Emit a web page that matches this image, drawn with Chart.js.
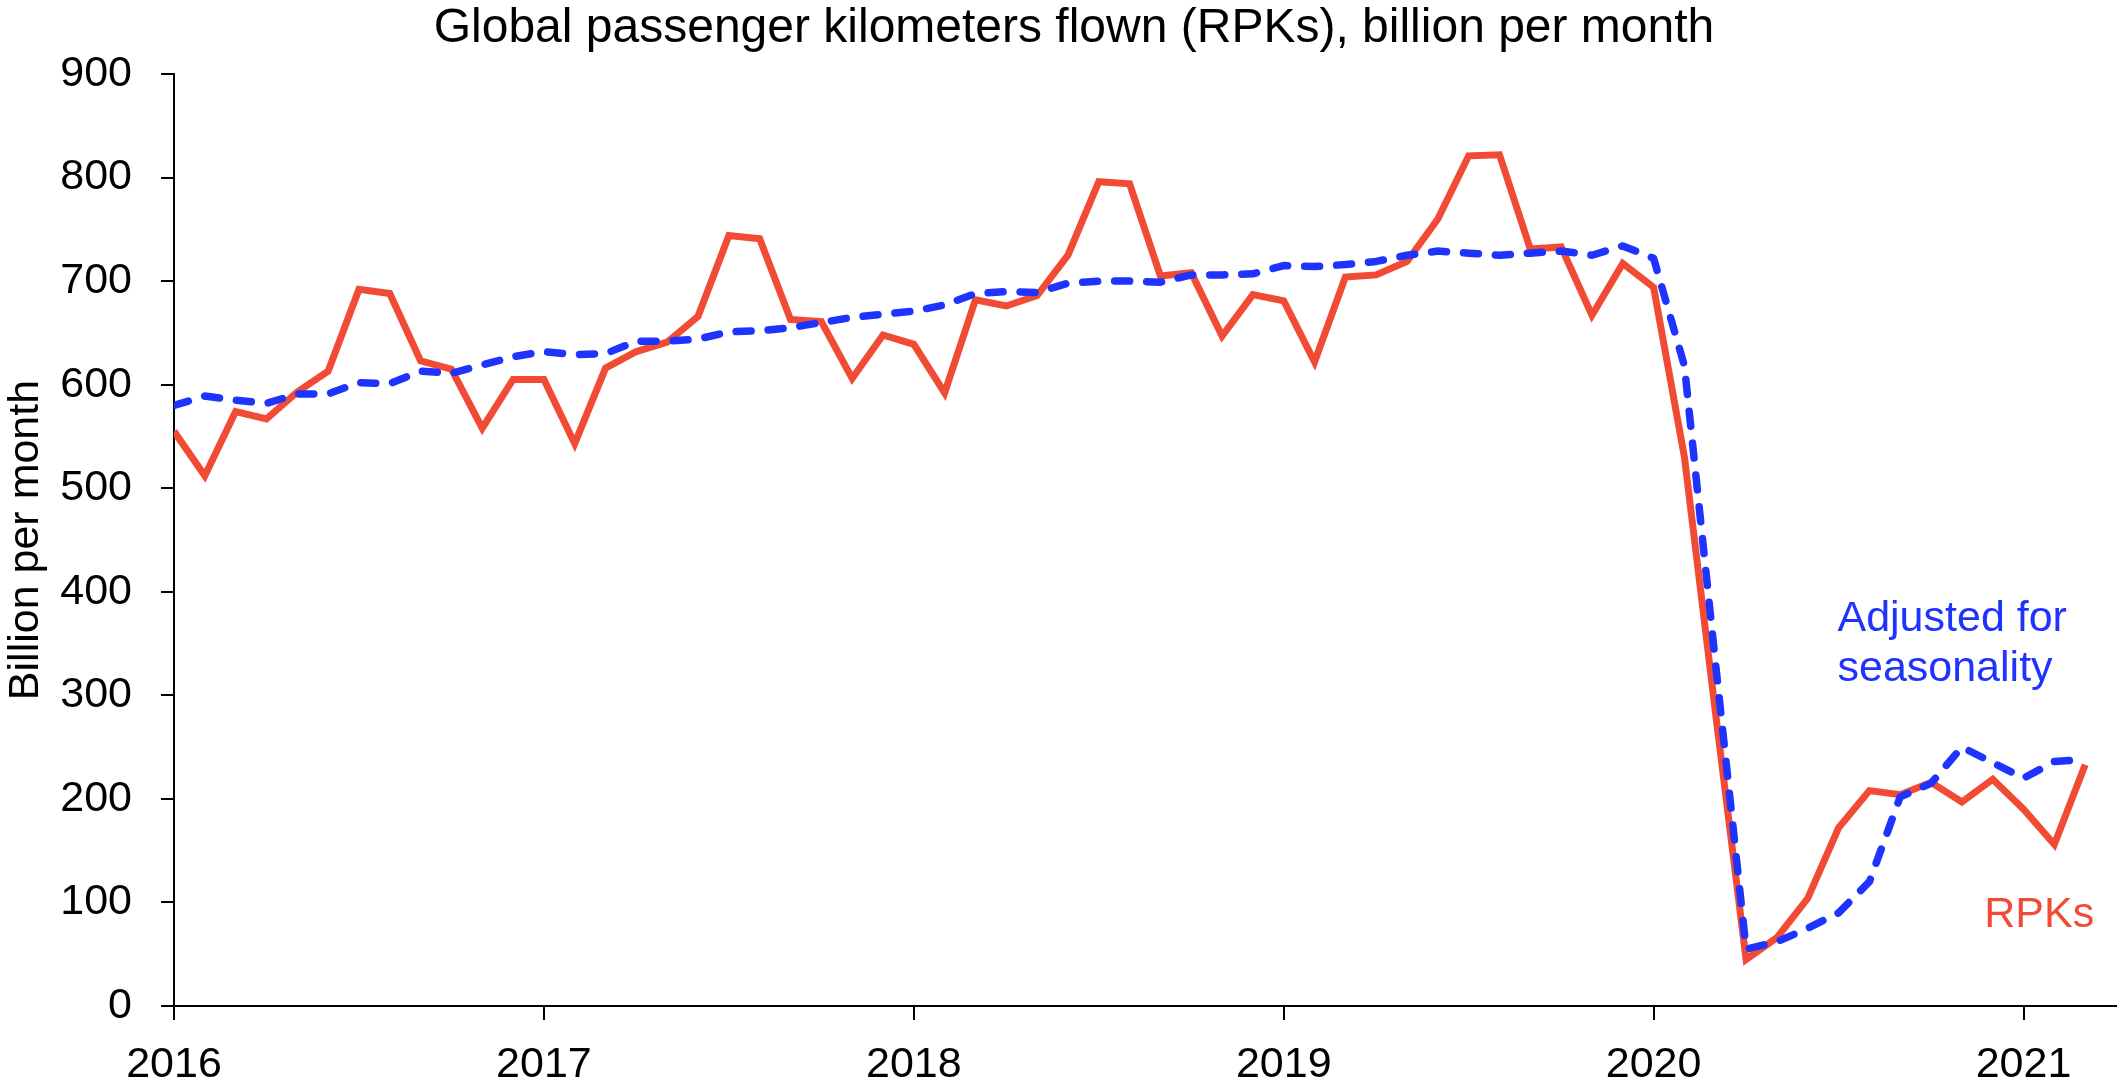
<!DOCTYPE html>
<html>
<head>
<meta charset="utf-8">
<title>Global passenger kilometers flown</title>
<script src="https://cdn.jsdelivr.net/npm/chart.js@4.4.1/dist/chart.umd.min.js"></script>
<style>
    html, body { margin: 0; padding: 0; background: #fff; }
    canvas { display: block; }
</style>
</head>
<body>
<canvas id="rpkChart" width="2118" height="1083"></canvas>
<script>
// monthly series, Jan 2016 .. Mar 2021
const firstYear = 2016;
const rpks = [
    555, 512, 574, 567, 593, 613, 692, 688, 623, 615, 558, 605,
    605, 543, 616, 632, 641, 666, 744, 741, 663, 661, 606, 648,
    639, 592, 682, 676, 686, 725, 796, 794, 705, 708, 647, 687,
    681, 622, 704, 706, 719, 760, 821, 822, 731, 733, 667, 717,
    694, 530, 285, 45, 66, 104, 172, 208, 204, 216, 197, 219,
    190, 156, 233
];
const seasonal = [
    580, 589, 585, 582, 591, 591, 602, 601, 613, 611, 619, 627,
    632, 629, 630, 642, 642, 644, 651, 652, 655, 660, 665, 668,
    671, 677, 688, 690, 689, 698, 700, 700, 699, 706, 706, 707,
    715, 714, 716, 719, 725, 729, 727, 725, 727, 729, 725, 734,
    722, 618, 333, 55, 62, 75, 90, 120, 202, 215, 250, 235,
    220, 236, 238
];
const yearTicks = [2016, 2017, 2018, 2019, 2020, 2021];
const valueTicks = [0, 100, 200, 300, 400, 500, 600, 700, 800, 900];

const titleText = 'Global passenger kilometers flown (RPKs), billion per month';
const RED = '#f24b35';
const BLUE = '#1f33ff';
const FONT = "'Liberation Sans', Arial, sans-serif";

function toPoints(values) {
    return values.map((v, i) => ({ x: firstYear + i / 12, y: v }));
}

// text labels next to the lines, placed in data units
const notes = [
    { text: 'Adjusted for', x: 2020.497, y: 362, color: BLUE },
    { text: 'seasonality', x: 2020.497, y: 314, color: BLUE },
    { text: 'RPKs', x: 2020.894, y: 76, color: RED }
];

const extraText = {
    id: 'extraText',
    afterDatasetsDraw(chart) {
        const ctx = chart.ctx;
        const xs = chart.scales.x;
        const ys = chart.scales.y;
        ctx.save();
        ctx.textBaseline = 'alphabetic';
        ctx.textAlign = 'left';
        ctx.font = '43px ' + FONT;
        notes.forEach(n => {
            ctx.fillStyle = n.color;
            ctx.fillText(n.text, xs.getPixelForValue(n.x), ys.getPixelForValue(n.y));
        });
        // chart title
        ctx.fillStyle = '#000';
        ctx.textAlign = 'center';
        ctx.font = '48px ' + FONT;
        ctx.fillText(titleText, 1074, 42);
        ctx.restore();
    }
};

const ctx = document.getElementById('rpkChart').getContext('2d');
const rpkChart = new Chart(ctx, {
    type: 'line',
    data: {
        datasets: [{
            label: 'RPKs',
            data: toPoints(rpks),
            borderColor: RED,
            borderWidth: 7,
            pointRadius: 0,
            tension: 0,
            order: 2
        }, {
            label: 'Adjusted for seasonality',
            data: toPoints(seasonal),
            borderColor: BLUE,
            borderWidth: 7.5,
            borderDash: [15, 17],
            borderCapStyle: 'round',
            borderJoinStyle: 'round',
            pointRadius: 0,
            tension: 0,
            order: 1
        }]
    },
    options: {
        responsive: false,
        devicePixelRatio: 1,
        animation: false,
        layout: { padding: { top: 74, right: 2, left: 0, bottom: 0 } },
        plugins: {
            legend: { display: false },
            tooltip: { enabled: false },
            title: { display: false }
        },
        scales: {
            x: {
                type: 'linear',
                min: 2016,
                max: 2021.25,
                afterFit: (scale) => { scale.height = 77; },
                afterBuildTicks: (scale) => { scale.ticks = yearTicks.map(v => ({ value: v })); },
                ticks: {
                    color: '#000',
                    font: { family: FONT, size: 43 },
                    padding: 19,
                    maxRotation: 0,
                    callback: (v) => String(v)
                },
                grid: { drawOnChartArea: false, drawTicks: true, tickLength: 14, color: '#000', lineWidth: 2 },
                border: { display: true, color: '#000', width: 2 }
            },
            y: {
                min: 0,
                max: 900,
                afterFit: (scale) => { scale.width = 174; },
                afterBuildTicks: (scale) => { scale.ticks = valueTicks.map(v => ({ value: v })); },
                ticks: {
                    color: '#000',
                    font: { family: FONT, size: 43 },
                    padding: 29,
                    callback: (v) => String(v)
                },
                grid: { drawOnChartArea: false, drawTicks: true, tickLength: 13, color: '#000', lineWidth: 2 },
                border: { display: true, color: '#000', width: 2 },
                title: {
                    display: true,
                    text: 'Billion per month',
                    color: '#000',
                    font: { family: FONT, size: 43 },
                    padding: { top: 0, bottom: 0 }
                }
            }
        }
    },
    plugins: [extraText]
});
</script>
</body>
</html>
